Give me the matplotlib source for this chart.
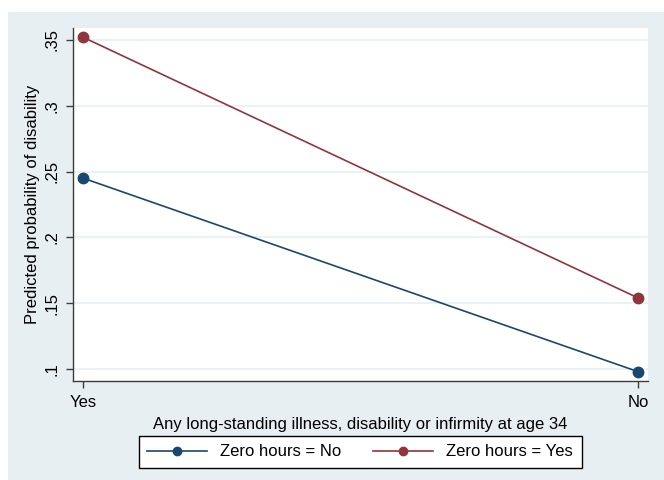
""" Predicted probability of disability by zero-hours status. """

import matplotlib
matplotlib.use("Agg")
import matplotlib.pyplot as plt
from matplotlib.patches import Rectangle

plt.rcParams["font.family"] = ["Liberation Sans", "DejaVu Sans"]

categories = ["Yes", "No"]
zero_hours_no = [0.245, 0.098]
zero_hours_yes = [0.352, 0.154]
y_ticks = [0.1, 0.15, 0.2, 0.25, 0.3, 0.35]
y_tick_labels = [".1", ".15", ".2", ".25", ".3", ".35"]

BLUE = "#1a476f"
RED = "#90353b"
BG = "#e8eff2"
AXIS = "#3c3c3c"
FS = 12

fig = plt.figure(figsize=(6.64, 4.80), dpi=100)
fig.patch.set_facecolor("white")
fig.patches.append(Rectangle((8/664, 0), 1 - 8/664, 1 - 12/480,
                             transform=fig.transFigure, facecolor=BG,
                             edgecolor="none", zorder=-10))

ax = fig.add_axes([73/664, 99/480, 575/664, 353/480])
ax.set_facecolor("white")

x = list(range(len(categories)))
ax.plot(x, zero_hours_no, color=BLUE, lw=1.2, marker="o", ms=7.5,
        label="Zero hours = No", clip_on=False, zorder=3)
ax.plot(x, zero_hours_yes, color=RED, lw=1.2, marker="o", ms=7.5,
        label="Zero hours = Yes", clip_on=False, zorder=3)

ax.set_xlim(-0.018, 1.018)
ax.set_ylim(0.0909, 0.359)
ax.set_xticks(x)
ax.set_xticklabels(categories, fontsize=FS)
ax.set_yticks(y_ticks)
ax.set_yticklabels(y_tick_labels, fontsize=FS, rotation=90, va="center")
ax.grid(axis="y", color="#eaf2f3", lw=1.5)
ax.set_axisbelow(True)

for side in ["top", "right"]:
    ax.spines[side].set_visible(False)
for side in ["left", "bottom"]:
    ax.spines[side].set_color(AXIS)
    ax.spines[side].set_linewidth(1.0)
ax.tick_params(colors=AXIS, labelcolor="black", length=5, width=1.0, pad=5)

ax.set_xlabel("Any long-standing illness, disability or infirmity at age 34",
              fontsize=FS, labelpad=5)
ax.set_ylabel("Predicted probability of disability", fontsize=FS, labelpad=3)

leg = fig.legend(loc="center", bbox_to_anchor=(360/664, 1 - 452/480), ncol=2,
                 fontsize=FS, frameon=True, fancybox=False, edgecolor="black",
                 framealpha=1, facecolor="white",
                 handlelength=3.6, columnspacing=1.9, borderpad=0.5)
leg.get_frame().set_linewidth(1.0)
for h in leg.legend_handles:
    h.set_markersize(6)

fig.savefig("out.png", dpi=100, facecolor=fig.get_facecolor())
